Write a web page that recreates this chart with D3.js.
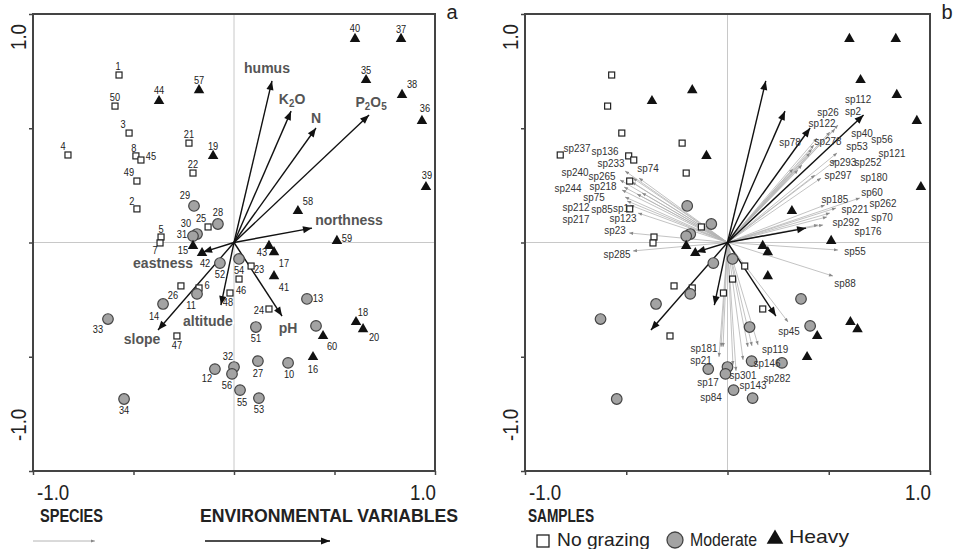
<!DOCTYPE html>
<html>
<head>
<meta charset="utf-8">
<script src="https://cdn.jsdelivr.net/npm/d3@7"></script>
<style>
body { margin: 0; background: #fff; }
svg { display: block; }
</style>
</head>
<body>
<svg width="954" height="549"></svg>
<script>
// sample scores (same in both panels), grouped by grazing intensity
let noGrazing = [
    {id: "1", x: -0.572, y: 0.733}, {id: "50", x: -0.592, y: 0.597}, {id: "3", x: -0.522, y: 0.479},
    {id: "4", x: -0.826, y: 0.383}, {id: "8", x: -0.488, y: 0.379}, {id: "45", x: -0.463, y: 0.361},
    {id: "49", x: -0.483, y: 0.269}, {id: "2", x: -0.483, y: 0.147}, {id: "21", x: -0.224, y: 0.435},
    {id: "22", x: -0.204, y: 0.304}, {id: "25", x: -0.129, y: 0.068}, {id: "5", x: -0.363, y: 0.024},
    {id: "7", x: -0.368, y: -0.002}, {id: "26", x: -0.264, y: -0.190}, {id: "6", x: -0.174, y: -0.199},
    {id: "48", x: -0.020, y: -0.221}, {id: "47", x: -0.284, y: -0.409}, {id: "46", x: 0.025, y: -0.160},
    {id: "23", x: 0.085, y: -0.103}, {id: "24", x: 0.174, y: -0.291}
];

let moderate = [
    {id: "29", x: -0.199, y: 0.160}, {id: "28", x: -0.080, y: 0.081}, {id: "30", x: -0.184, y: 0.037},
    {id: "31", x: -0.204, y: 0.028}, {id: "52", x: -0.070, y: -0.090}, {id: "14", x: -0.353, y: -0.269},
    {id: "11", x: -0.184, y: -0.225}, {id: "33", x: -0.627, y: -0.335}, {id: "32", x: 0.000, y: -0.545},
    {id: "12", x: -0.095, y: -0.554}, {id: "56", x: -0.010, y: -0.575}, {id: "34", x: -0.547, y: -0.685},
    {id: "54", x: 0.025, y: -0.072}, {id: "51", x: 0.109, y: -0.370}, {id: "13", x: 0.363, y: -0.247},
    {id: "", x: 0.408, y: -0.365}, {id: "27", x: 0.119, y: -0.519}, {id: "10", x: 0.269, y: -0.527},
    {id: "55", x: 0.030, y: -0.646}, {id: "53", x: 0.124, y: -0.681}
];

let heavy = [
    {id: "44", x: -0.373, y: 0.619}, {id: "57", x: -0.174, y: 0.667}, {id: "19", x: -0.104, y: 0.379},
    {id: "15", x: -0.204, y: -0.015}, {id: "42", x: -0.159, y: -0.046}, {id: "40", x: 0.602, y: 0.891},
    {id: "37", x: 0.831, y: 0.891}, {id: "35", x: 0.657, y: 0.711}, {id: "38", x: 0.836, y: 0.646},
    {id: "36", x: 0.935, y: 0.532}, {id: "39", x: 0.955, y: 0.243}, {id: "58", x: 0.318, y: 0.138},
    {id: "59", x: 0.512, y: 0.007}, {id: "43", x: 0.174, y: -0.015}, {id: "17", x: 0.199, y: -0.042},
    {id: "41", x: 0.199, y: -0.147}, {id: "18", x: 0.607, y: -0.348}, {id: "20", x: 0.642, y: -0.379},
    {id: "60", x: 0.443, y: -0.409}, {id: "16", x: 0.393, y: -0.501}
];

// environmental variables (arrow tips)
let envVars = [
    {name: "humus", x: 0.189, y: 0.707}, {name: "K2O", x: 0.284, y: 0.575}, {name: "N", x: 0.408, y: 0.501},
    {name: "P2O5", x: 0.672, y: 0.558}, {name: "northness", x: 0.388, y: 0.063}, {name: "eastness", x: -0.154, y: -0.042},
    {name: "slope", x: -0.378, y: -0.383}, {name: "altitude", x: -0.065, y: -0.274}, {name: "pH", x: 0.239, y: -0.322}
];

// species arrows (tips), panel b
let species = [
    {name: "sp237", x: -0.491, y: 0.274}, {name: "sp136", x: -0.467, y: 0.282}, {name: "sp233", x: -0.506, y: 0.313},
    {name: "sp74", x: -0.437, y: 0.282}, {name: "sp240", x: -0.531, y: 0.274}, {name: "sp265", x: -0.472, y: 0.265},
    {name: "sp218", x: -0.511, y: 0.243}, {name: "sp244", x: -0.521, y: 0.230}, {name: "sp75", x: -0.447, y: 0.212},
    {name: "sp212", x: -0.506, y: 0.199}, {name: "sp85", x: -0.496, y: 0.182}, {name: "sp1", x: -0.422, y: 0.217},
    {name: "sp123", x: -0.442, y: 0.129}, {name: "sp217", x: -0.481, y: 0.164}, {name: "sp23", x: -0.486, y: 0.042},
    {name: "sp285", x: -0.467, y: -0.037},
    {name: "sp112", x: 0.546, y: 0.514}, {name: "sp2", x: 0.531, y: 0.497}, {name: "sp26", x: 0.506, y: 0.484},
    {name: "sp122", x: 0.442, y: 0.457}, {name: "sp78", x: 0.368, y: 0.339}, {name: "sp278", x: 0.427, y: 0.427},
    {name: "sp40", x: 0.541, y: 0.392}, {name: "sp56", x: 0.417, y: 0.409}, {name: "sp53", x: 0.407, y: 0.392},
    {name: "sp121", x: 0.348, y: 0.317}, {name: "sp293", x: 0.323, y: 0.322}, {name: "sp252", x: 0.536, y: 0.361},
    {name: "sp297", x: 0.462, y: 0.282}, {name: "sp180", x: 0.432, y: 0.295}, {name: "sp60", x: 0.654, y: 0.195},
    {name: "sp185", x: 0.481, y: 0.164}, {name: "sp262", x: 0.536, y: 0.151}, {name: "sp221", x: 0.506, y: 0.129},
    {name: "sp70", x: 0.491, y: 0.112}, {name: "sp292", x: 0.472, y: 0.077}, {name: "sp176", x: 0.447, y: 0.077},
    {name: "sp55", x: 0.546, y: -0.033}, {name: "sp88", x: 0.521, y: -0.147}, {name: "sp45", x: 0.299, y: -0.348},
    {name: "sp119", x: 0.151, y: -0.449}, {name: "sp146", x: 0.101, y: -0.457}, {name: "sp282", x: 0.121, y: -0.453},
    {name: "sp301", x: 0.042, y: -0.562}, {name: "sp143", x: 0.077, y: -0.514}, {name: "sp181", x: -0.032, y: -0.457},
    {name: "sp21", x: -0.042, y: -0.501}, {name: "sp17", x: -0.022, y: -0.457}, {name: "sp84", x: 0.027, y: -0.536}
];

let ticks = [-1, -0.5, 0, 0.5, 1];
let tickLabels = ["-1.0", "1.0"];

// label placement (pixels from the mark)
let sampleLabelOffset = {
    "1": [-1, -9], "50": [0, -9], "3": [-6, -9], "4": [-5, -9], "8": [-2, -8], "45": [10, -4], "49": [-8, -9],
    "2": [-5, -8], "21": [0, -9], "22": [0, -9], "25": [-7, -9], "5": [0, -8], "7": [-5, 7], "26": [-8, 9],
    "6": [8, -3], "48": [-2, 9], "47": [0, 9], "46": [2, 11], "23": [8, 3], "24": [-10, 1],
    "29": [-9, -11], "28": [0, -12], "30": [-11, -11], "31": [-11, -2], "52": [0, 11], "14": [-9, 12],
    "11": [-6, 11], "33": [-10, 10], "32": [-6, -11], "12": [-8, 9], "56": [-5, 11], "34": [0, 11],
    "54": [0, 11], "51": [0, 11], "13": [11, -1], "27": [0, 12], "10": [1, 11], "55": [2, 12], "53": [0, 11],
    "44": [0, -11], "57": [0, -10], "19": [0, -10], "15": [-10, 4], "42": [3, 10], "40": [0, -11], "37": [0, -10],
    "35": [0, -10], "38": [10, -11], "36": [3, -13], "39": [1, -12], "58": [10, -10], "59": [10, -3],
    "43": [-7, 6], "17": [10, 11], "41": [10, 11], "18": [7, -10], "20": [11, 8], "60": [9, 10], "16": [0, 12]
};

let envLabelOffset = {
    humus: [-5, -13], K2O: [1, -12], N: [0, -10], P2O5: [2, -13], northness: [37, -8],
    eastness: [-40, 11], slope: [-16, 9], altitude: [-13, 16], pH: [6, 12]
};

let speciesLabelOffset = {
    sp237: [-51, -32], sp136: [-28, -27], sp233: [-14, -8], sp74: [9, -10], sp240: [-45, -8], sp265: [-30, -6],
    sp218: [-21, -1], sp244: [-54, -2], sp75: [-43, 3], sp212: [-49, 10], sp85: [-25, 8], sp1: [-21, 15],
    sp123: [-15, 5], sp217: [-54, 14], sp23: [-14, -3], sp285: [-16, 3],
    sp112: [20, -26], sp2: [18, -18], sp26: [-2, -20], sp122: [5, -15], sp78: [-12, -23], sp278: [14, -4],
    sp40: [25, -20], sp56: [70, -10], sp53: [47, -7], sp121: [94, -17], sp293: [50, -7], sp252: [32, 2],
    sp297: [17, -3], sp180: [59, 2], sp60: [12, -6], sp185: [10, -6], sp262: [47, -5], sp221: [25, -4],
    sp70: [55, 0], sp292: [23, -3], sp176: [50, 6],
    sp55: [17, 1], sp88: [12, 7], sp45: [1, 9], sp119: [17, 4], sp146: [19, 16], sp282: [25, 32],
    sp301: [7, 4], sp143: [10, 25], sp181: [-17, 1], sp21: [-18, 3], sp17: [-15, 35], sp84: [-22, 32]
};

let narrow = "'Liberation Sans Narrow', 'Arial Narrow', 'Liberation Sans', Arial, sans-serif";
let sans = "'Liberation Sans', Arial, sans-serif";

let svg = d3.select("svg");

// squeeze a text to look like a narrow face
function condense(sel, k) {
    sel.each(function () {
        let w = this.getComputedTextLength();
        d3.select(this).attr("textLength", w * k).attr("lengthAdjust", "spacingAndGlyphs");
    });
}

let defs = svg.append("defs");
defs.append("marker").attr("id", "envHead")
    .attr("viewBox", "0 -5 10 10").attr("refX", 10).attr("refY", 0)
    .attr("markerWidth", 10).attr("markerHeight", 9)
    .attr("markerUnits", "userSpaceOnUse").attr("orient", "auto")
    .append("path").attr("d", "M0,-4L10,0L0,4Z").attr("fill", "#111");
defs.append("marker").attr("id", "spHead")
    .attr("viewBox", "0 -5 10 10").attr("refX", 10).attr("refY", 0)
    .attr("markerWidth", 5).attr("markerHeight", 4)
    .attr("markerUnits", "userSpaceOnUse").attr("orient", "auto")
    .append("path").attr("d", "M0,-4L10,0L0,4Z").attr("fill", "#888");

function drawPanel(x0, x1, letter, withSpecies) {
    let x = d3.scaleLinear().domain([-1, 1]).range([x0, x1]);
    let y = d3.scaleLinear().domain([-1, 1]).range([471, 14]);
    let g = svg.append("g");

    // crosshair through origin
    g.append("line").attr("x1", x(0)).attr("x2", x(0)).attr("y1", y(-1)).attr("y2", y(1))
        .attr("stroke", "#c8c8c8").attr("stroke-width", 1);
    g.append("line").attr("x1", x(-1)).attr("x2", x(1)).attr("y1", y(0)).attr("y2", y(0))
        .attr("stroke", "#c8c8c8").attr("stroke-width", 1);

    // axes
    g.append("g").attr("transform", "translate(0," + y(-1) + ")")
        .call(d3.axisBottom(x).tickValues(ticks).tickSize(4).tickFormat(""))
        .call(a => a.select(".domain").remove())
        .selectAll("line").attr("stroke", "#444").attr("stroke-width", 1.5);
    g.append("g").attr("transform", "translate(" + x(-1) + ",0)")
        .call(d3.axisLeft(y).tickValues(ticks).tickSize(4).tickFormat(""))
        .call(a => a.select(".domain").remove())
        .selectAll("line").attr("stroke", "#444").attr("stroke-width", 1.5);
    g.append("rect").attr("x", x(-1)).attr("y", y(1))
        .attr("width", x(1) - x(-1)).attr("height", y(-1) - y(1))
        .attr("fill", "none").attr("stroke", "#444").attr("stroke-width", 2);

    // tick labels
    let tl = [];
    tl.push(g.append("text").attr("x", x(-1) + 4).attr("y", 500).text(tickLabels[0]));
    tl.push(g.append("text").attr("x", x(1) + 1).attr("y", 500).attr("text-anchor", "end").text(tickLabels[1]));
    tl.push(g.append("text").attr("transform", "translate(" + (x(-1) - 7) + "," + (y(1) + 10) + ") rotate(-90)")
        .attr("text-anchor", "end").text(tickLabels[1]));
    tl.push(g.append("text").attr("transform", "translate(" + (x(-1) - 7) + "," + (y(-1) - 30) + ") rotate(-90)")
        .attr("text-anchor", "start").text(tickLabels[0]));
    tl.forEach(t => {
        t.attr("font-family", narrow).attr("font-size", 22).attr("fill", "#222");
        condense(t, 0.85);
    });
    g.append("text").attr("x", x(1) + 17).attr("y", 19).attr("text-anchor", "middle")
        .attr("font-family", sans).attr("font-size", 20).attr("fill", "#222").text(letter);

    if (withSpecies) {
        g.selectAll(".sp").data(species).enter().append("line")
            .attr("x1", x(0)).attr("y1", y(0))
            .attr("x2", d => x(d.x)).attr("y2", d => y(d.y))
            .attr("stroke", "#b4b4b4").attr("stroke-width", 0.8)
            .attr("marker-end", "url(#spHead)");
    }

    g.selectAll(".env").data(envVars).enter().append("line")
        .attr("x1", x(0)).attr("y1", y(0))
        .attr("x2", d => x(d.x)).attr("y2", d => y(d.y))
        .attr("stroke", "#111").attr("stroke-width", 1.4)
        .attr("marker-end", "url(#envHead)");

    // samples
    g.selectAll(".sq").data(noGrazing).enter().append("rect")
        .attr("x", d => x(d.x) - 3).attr("y", d => y(d.y) - 3)
        .attr("width", 6).attr("height", 6)
        .attr("fill", "#fff").attr("stroke", "#222").attr("stroke-width", 1.2);
    g.selectAll(".ci").data(moderate).enter().append("circle")
        .attr("cx", d => x(d.x)).attr("cy", d => y(d.y)).attr("r", 5.3)
        .attr("fill", "#a3a3a3").attr("stroke", "#444").attr("stroke-width", 1.2);
    g.selectAll(".tr").data(heavy).enter().append("path")
        .attr("d", d3.symbol().type(d3.symbolTriangle).size(48))
        .attr("transform", d => "translate(" + x(d.x) + "," + y(d.y) + ")")
        .attr("fill", "#111");

    if (withSpecies) {
        g.selectAll(".spl").data(species).enter().append("text")
            .attr("x", d => x(d.x) + speciesLabelOffset[d.name][0])
            .attr("y", d => y(d.y) + speciesLabelOffset[d.name][1])
            .attr("text-anchor", "middle").attr("dominant-baseline", "central")
            .attr("font-family", narrow).attr("font-size", 11.5).attr("fill", "#333")
            .text(d => d.name)
            .call(condense, 0.86);
    } else {
        let all = noGrazing.concat(moderate, heavy).filter(d => d.id !== "");
        g.selectAll(".sl").data(all).enter().append("text")
            .attr("x", d => x(d.x) + sampleLabelOffset[d.id][0])
            .attr("y", d => y(d.y) + sampleLabelOffset[d.id][1])
            .attr("text-anchor", "middle").attr("dominant-baseline", "central")
            .attr("font-family", narrow).attr("font-size", 10.5).attr("fill", "#222")
            .text(d => d.id)
            .call(condense, 0.88);

        let lab = g.selectAll(".el").data(envVars).enter().append("text")
            .attr("x", d => x(d.x) + envLabelOffset[d.name][0])
            .attr("y", d => y(d.y) + envLabelOffset[d.name][1])
            .attr("text-anchor", "middle").attr("dominant-baseline", "central")
            .attr("font-family", sans).attr("font-weight", "bold").attr("font-size", 14)
            .attr("fill", "#555").attr("stroke", "#fff").attr("stroke-width", 3)
            .attr("paint-order", "stroke");
        lab.each(function (d) {
            let t = d3.select(this);
            let m = d.name.match(/^([A-Z])(\d)([A-Z])(\d)?$/);
            if (!m) { t.text(d.name); return; }
            t.append("tspan").text(m[1]);
            t.append("tspan").attr("dy", 4).attr("font-size", 10).text(m[2]);
            t.append("tspan").attr("dy", -4).text(m[3]);
            if (m[4]) t.append("tspan").attr("dy", 4).attr("font-size", 10).text(m[4]);
        });
    }
}

drawPanel(33, 435, "a", false);
drawPanel(525, 930, "b", true);

// key
function keyText(x, y, txt, len, bold, size) {
    svg.append("text").attr("x", x).attr("y", y).attr("font-family", narrow)
        .attr("font-weight", bold ? "bold" : "normal").attr("font-size", size)
        .attr("textLength", len).attr("lengthAdjust", "spacingAndGlyphs")
        .attr("fill", "#222").text(txt);
}
keyText(40, 522, "SPECIES", 63, true, 18);
keyText(200, 522, "ENVIRONMENTAL VARIABLES", 258, true, 18);
keyText(528, 522, "SAMPLES", 66, true, 18);

svg.append("line").attr("x1", 33).attr("x2", 95).attr("y1", 541).attr("y2", 541)
    .attr("stroke", "#b4b4b4").attr("stroke-width", 1).attr("marker-end", "url(#spHead)");
svg.append("line").attr("x1", 205).attr("x2", 330).attr("y1", 541).attr("y2", 541)
    .attr("stroke", "#111").attr("stroke-width", 1.5).attr("marker-end", "url(#envHead)");

svg.append("rect").attr("x", 537).attr("y", 535).attr("width", 12).attr("height", 12)
    .attr("fill", "#fff").attr("stroke", "#222").attr("stroke-width", 1.3);
keyText(557, 546, "No grazing", 93, false, 19);
svg.append("circle").attr("cx", 675).attr("cy", 540).attr("r", 8)
    .attr("fill", "#a3a3a3").attr("stroke", "#444").attr("stroke-width", 1.3);
keyText(690, 546, "Moderate", 67, false, 19);
svg.append("path").attr("d", d3.symbol().type(d3.symbolTriangle).size(120))
    .attr("transform", "translate(775,539)").attr("fill", "#111");
keyText(789, 543, "Heavy", 60, false, 19);
</script>
</body>
</html>
